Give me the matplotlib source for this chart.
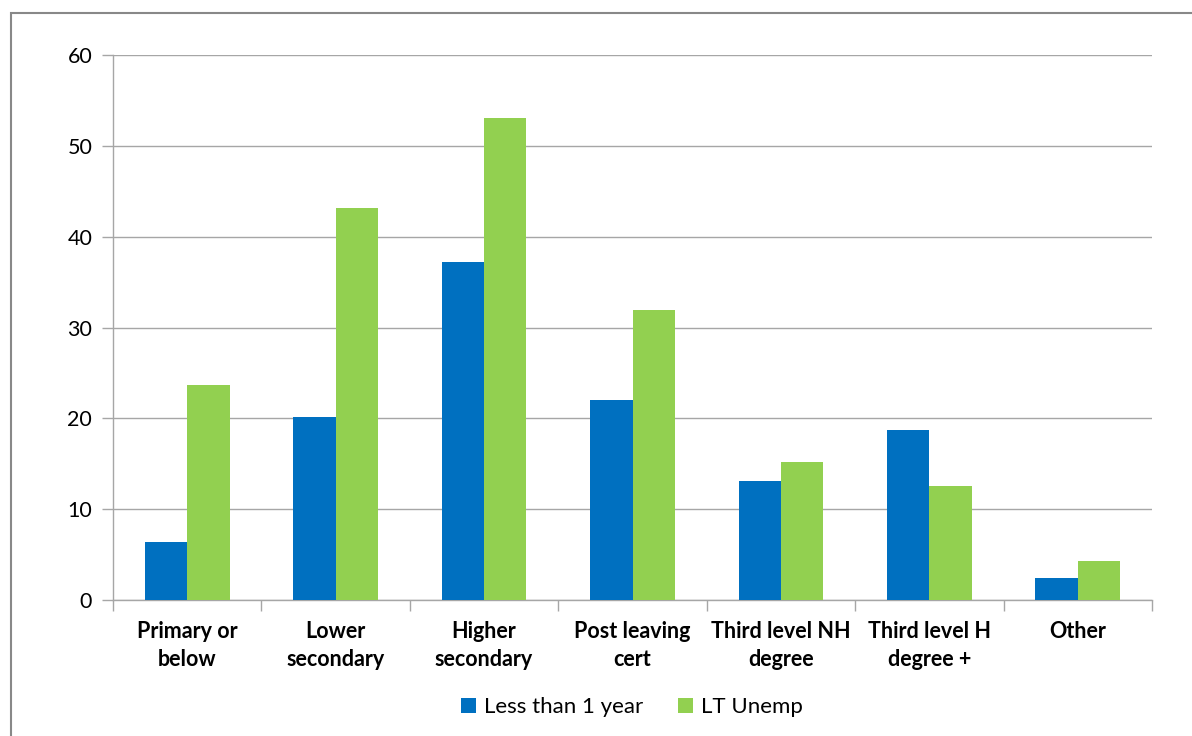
import matplotlib
matplotlib.use("Agg")
import matplotlib.pyplot as plt
import numpy as np
from matplotlib.patches import Rectangle

categories = ["Primary or\nbelow", "Lower\nsecondary", "Higher\nsecondary", "Post leaving\ncert",
              "Third level NH\ndegree", "Third level H\ndegree +", "Other"]
less_than_1yr = [6.4, 20.2, 37.2, 22.0, 13.1, 18.7, 2.4]
lt_unemp = [23.7, 43.2, 53.1, 31.9, 15.2, 12.6, 4.3]
series_names = ["Less than 1 year", "LT Unemp"]
yticks = [0, 10, 20, 30, 40, 50, 60]

plt.rcParams['font.family'] = ['Lato', 'DejaVu Sans']

fig = plt.figure(figsize=(11.92, 7.36), dpi=100)
fig.patches.append(Rectangle((11/1192, -0.1), 1.2, (1 - 13/736) + 0.1, transform=fig.transFigure,
                             fill=False, edgecolor='#888888', linewidth=1.5, zorder=0))
ax = fig.add_axes([113/1192, 1 - 600/736, (1152 - 113)/1192, (600 - 55)/736])

x = np.arange(len(categories))
w = 0.285
ax.bar(x - w/2, less_than_1yr, w, color='#0070C0', label=series_names[0], zorder=3)
ax.bar(x + w/2, lt_unemp, w, color='#92D050', label=series_names[1], zorder=3)

ax.set_xlim(-0.5, len(categories) - 0.5)
ax.set_ylim(0, 60)
ax.set_yticks(yticks)
ax.set_yticklabels([str(v) for v in yticks], fontsize=15.5)
ax.yaxis.grid(True, color='#A6A6A6', linewidth=1, zorder=0)
ax.set_axisbelow(True)

ax.set_xticks(x)
ax.set_xticklabels(categories, fontsize=15.5, fontweight='bold', linespacing=1.45)
ax.set_xticks(np.arange(-0.5, len(categories)), minor=True)
ax.tick_params(axis='x', which='major', length=0, pad=15)
ax.tick_params(axis='x', which='minor', length=8, color='#A6A6A6', width=1)
ax.tick_params(axis='y', length=8, color='#A6A6A6', width=1, pad=7)

for s in ['top', 'right']:
    ax.spines[s].set_visible(False)
for s in ['left', 'bottom']:
    ax.spines[s].set_color('#A6A6A6')
    ax.spines[s].set_linewidth(1)

leg = fig.legend(loc='center', bbox_to_anchor=(632/1192, 1 - 707/736), ncol=2, frameon=False,
                 fontsize=16, handlelength=0.65, handleheight=0.65, columnspacing=1.6, handletextpad=0.35)

fig.savefig("out.png", dpi=100)
